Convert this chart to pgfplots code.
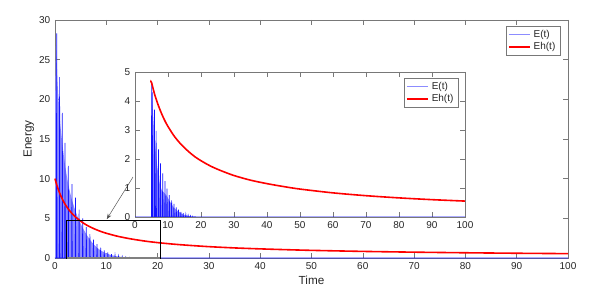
\documentclass[border=0pt]{standalone}
\usepackage{fontspec}
\setmainfont{Liberation Sans}
\usepackage{pgfplots}
\pgfplotsset{compat=1.18}
\usetikzlibrary{calc,arrows.meta}
\definecolor{axgray}{RGB}{120,120,120}
\definecolor{txt}{RGB}{38,38,38}
\definecolor{lblue}{RGB}{140,140,255}
\definecolor{dblue}{RGB}{20,20,255}
\pgfplotstableread{
t Eh
0 10
0.25 9.41
0.5 8.90
1 8.03
1.5 7.33
2 6.75
2.5 6.26
3 5.84
3.5 5.48
4 5.16
5 4.64
6 4.21
7 3.87
8 3.58
9 3.33
10 3.12
12 2.77
14 2.50
16 2.28
18 2.09
20 1.94
23 1.75
26 1.60
30 1.43
35 1.27
40 1.15
45 1.05
50 0.963
60 0.832
70 0.735
80 0.659
90 0.598
100 0.549
}\ehmain
\pgfplotstableread{
t Eh
4.8 4.65
5 4.64
6 4.21
7 3.87
8 3.58
9 3.33
10 3.12
12 2.77
14 2.50
16 2.28
18 2.09
20 1.94
23 1.75
26 1.60
30 1.43
35 1.27
40 1.15
45 1.05
50 0.963
60 0.832
70 0.735
80 0.659
90 0.598
100 0.549
}\ehinset
\pgfplotsset{
  myax/.style={
    scale only axis,
    tick align=inside,
    major tick length=3.5pt,
    axis line style={draw=axgray, line width=0.45pt},
    tick style={draw=axgray, line width=0.45pt},
    ticklabel style={font=\fontsize{7.5}{9}\selectfont, text=txt},
    label style={font=\fontsize{8.8}{10}\selectfont, text=txt},
    /pgf/number format/assume math mode=true,
    legend style={font=\fontsize{7.5}{9}\selectfont, text=txt, draw=axgray, line width=0.45pt,
      inner xsep=1.5pt, inner ysep=0.8pt, row sep=-1.5pt,
      /tikz/every even column/.append style={column sep=1pt}},
    legend cell align=left,
    legend image code/.code={\draw[#1] (0pt,0pt) -- (16pt,0pt);},
  }
}
\begin{document}
\begin{tikzpicture}
\begin{axis}[myax, name=main,
  width=384.75pt, height=178.5pt,
  xmin=0, xmax=100, ymin=0, ymax=30,
  xtick={0,10,...,100}, ytick={0,5,...,30},
  xlabel={Time}, ylabel={Energy},
  xlabel style={yshift=2pt},
  ylabel style={yshift=-3pt},
  clip=false,
  legend style={at={(0.985,0.975)}, anchor=north east},
]
\addlegendimage{lblue, line width=0.6pt}
\addlegendentry{E(t)}
\addlegendimage{red, line width=1.2pt}
\addlegendentry{Eh(t)}
% light dense part of E(t)
\addplot[fill=lblue, draw=none, forget plot] coordinates {
(0,0) (0.02,20) (0.2,26.9) (0.5,22) (1.0,17) (1.5,14) (2,11.5) (2.6,9.2) (3.3,7.3) (4,5.9)
(4.7,4.7) (5.4,3.8) (6.1,3.0) (6.8,2.3) (7.5,1.75) (8.2,1.3) (8.9,0.95) (9.6,0.7) (10.3,0.5)
(11,0.36) (12,0.22) (13,0.13) (14,0.08) (15,0.04) (16,0.02) (17,0)} \closedcycle;
% dark spikes of E(t)
\addplot[dblue, line width=0.5pt, forget plot] coordinates {
(0,0) (0.27,0) (0.33,28.3) (0.39,0)
(0.84,0) (0.9,22.8) (0.96,0)
(1.37,0) (1.43,18.3) (1.49,0)
(1.89,0) (1.95,14.5) (2.01,0)
(2.54,0) (2.6,11.6) (2.66,0)
(3.24,0) (3.3,9.3) (3.36,0)
(3.94,0) (4.0,7.6) (4.06,0)
(4.64,0) (4.7,6.1) (4.76,0)
(5.34,0) (5.4,5.0) (5.46,0)
(6.04,0) (6.1,3.9) (6.16,0)
(6.74,0) (6.8,3.0) (6.86,0)
(7.44,0) (7.5,2.3) (7.56,0)
(8.14,0) (8.2,1.75) (8.26,0)
(8.84,0) (8.9,1.3) (8.96,0)
(9.54,0) (9.6,0.95) (9.66,0)
(10.24,0) (10.3,0.7) (10.36,0)
(10.94,0) (11.0,0.5) (11.06,0)
(11.64,0) (11.7,0.36) (11.76,0)
(12.34,0) (12.4,0.26) (12.46,0)
(13.04,0) (13.1,0.18) (13.16,0)
(13.74,0) (13.8,0.12) (13.86,0)
(14.44,0) (14.5,0.08) (14.56,0)
(15.14,0) (15.2,0.05) (15.26,0)
(15.84,0) (15.9,0.03) (15.96,0)
(16.54,0) (16.6,0.02) (16.66,0)
(100,0)};
\addplot[red, line width=1.2pt, smooth, forget plot] table[x=t, y=Eh] {\ehmain};
\draw[black, line width=0.6pt] (axis cs:2.3,0) rectangle (axis cs:20.5,4.7);
\draw[black!50, line width=0.9pt] (axis cs:2.3,0) -- (axis cs:20.5,0);
\draw[black!70, line width=0.35pt, -{Stealth[length=4pt,width=3pt]}] (axis cs:15.2,10.2) -- (axis cs:10.1,4.9);
\end{axis}

\begin{axis}[myax, at={(60pt,30.75pt)}, anchor=south west,
  width=247.5pt, height=108.75pt,
  xmin=0, xmax=100, ymin=0, ymax=5,
  xtick={0,10,...,100}, ytick={0,1,...,5},
  axis background/.style={fill=white},
  legend style={at={(0.98,0.96)}, anchor=north east},
]
\addlegendimage{lblue, line width=0.6pt}
\addlegendentry{E(t)}
\addlegendimage{red, line width=1.2pt}
\addlegendentry{Eh(t)}
\addplot[fill=lblue, draw=none, forget plot] coordinates {
(5.0,0) (5.05,4.3) (5.5,3.5) (6,2.6) (6.5,2.0) (7,1.5) (7.5,1.15) (8,0.95) (8.7,0.85)
(9.5,0.75) (10,0.65) (11,0.45) (12,0.3) (13,0.2) (14,0.12) (15,0.07) (16,0.04) (17,0.02) (18,0)} \closedcycle;
\addplot[dblue, line width=0.5pt, forget plot] coordinates {
(0,0) (4.95,0) (5.05,4.66) (5.15,0)
(5.17,0) (5.25,4.3) (5.33,0)
(5.8,0) (5.9,3.7) (6.0,0)
(6.3,0) (6.4,2.97) (6.5,0)
(7.0,0) (7.1,2.33) (7.2,0)
(7.6,0) (7.7,1.86) (7.8,0)
(8.3,0) (8.4,1.5) (8.5,0)
(9.0,0) (9.1,1.24) (9.2,0)
(9.6,0) (9.7,0.98) (9.8,0)
(10.3,0) (10.4,0.75) (10.5,0)
(11.0,0) (11.1,0.57) (11.2,0)
(11.7,0) (11.8,0.45) (11.9,0)
(12.4,0) (12.5,0.33) (12.6,0)
(13.1,0) (13.2,0.25) (13.3,0)
(13.8,0) (13.9,0.18) (14.0,0)
(14.5,0) (14.6,0.13) (14.7,0)
(15.3,0) (15.4,0.09) (15.5,0)
(16.0,0) (16.1,0.06) (16.2,0)
(16.7,0) (16.8,0.04) (16.9,0)
(17.4,0) (17.5,0.025) (17.6,0)
(18.1,0) (18.2,0.015) (18.3,0)
(100,0)};
\addplot[red, line width=1.2pt, smooth, forget plot] table[x=t, y=Eh] {\ehinset};
\end{axis}
\path (-41.25pt,-25.5pt) rectangle (414.75pt,193.5pt);
\end{tikzpicture}
\end{document}
